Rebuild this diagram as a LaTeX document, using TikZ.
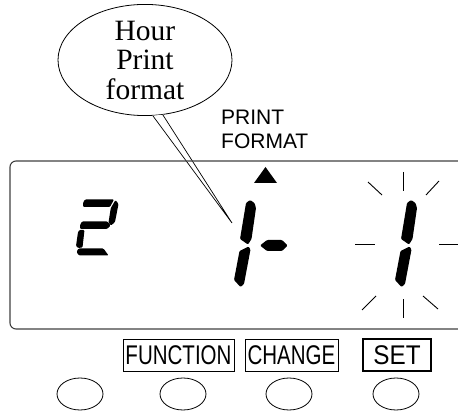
\documentclass[tikz,border=0pt]{standalone}
\usepackage{fontspec}
\setmainfont{Liberation Serif}
\setsansfont{Liberation Sans}
\newfontfamily\narrowsans[FakeStretch=0.76]{Liberation Sans}
\newfontfamily\setsans[FakeStretch=0.9]{Liberation Sans}
\usetikzlibrary{shapes.geometric}

\begin{document}
\begin{tikzpicture}[
  x=1pt,y=-1pt,
  seg/.style={fill=black,rounded corners=1pt},
  ray/.style={line width=.9pt},
  lbl/.style={draw,line width=.8pt,minimum height=32pt,inner sep=0pt,
    font=\narrowsans\fontsize{27}{27}\selectfont},
  btn/.style={draw,ellipse,line width=.8pt,minimum width=46pt,minimum height=32pt,
    inner sep=0pt},
  digitone/.pic={
    \fill[seg] (246,203) -- (250,200) -- (254.5,203) -- (256,208) -- (251.5,239)
      -- (248,244.5) -- (240,239) -- cycle;
    \fill[seg] (248.5,246.5) -- (250.5,249.5) -- (244,284) -- (240.5,287) -- (234,280)
      -- (239.5,251) -- cycle;
  }
]
\useasboundingbox (0,0) rectangle (458,414);

% balloon
\node[draw,ellipse,fill=white,line width=.8pt,minimum width=174pt,minimum height=110pt,
  inner sep=0pt,align=center,font=\fontsize{29.5}{29.5}\selectfont] (bal) at (145,60)
  {Hour\\Print\\format};
\coordinate (tip) at (232,223);
\fill[white] (bal.-83) -- (tip) -- (bal.-71) -- cycle;
\draw[line width=.7pt] (bal.-82) -- (tip) -- (bal.-72);

% display
\draw[line width=1.1pt,black!75,rounded corners=6pt]
  (470,161) -- (10,161) -- (10,329) -- (470,329);
\node[align=left,anchor=north west,inner sep=0pt,
  font=\sffamily\fontsize{21}{24}\selectfont] (pf) at (221,110) {PRINT\\FORMAT};
\fill (254,183) -- (277,183) -- (265.5,167) -- cycle;

% digit 2
\fill[seg] (85,199.5) -- (114,199.5) -- (110,207) -- (83,207) -- (83.3,202) -- cycle;
\fill[seg] (115.5,200) -- (118.5,204) -- (115,222) -- (111,225.5) -- (108.5,222.5)
  -- (110.8,208) -- cycle;
\fill[seg] (82,221.5) -- (107.5,221.5) -- (110.5,225.5) -- (107,229) -- (80,229)
  -- (80,225) -- cycle;
\fill[seg] (79.5,230) -- (84.5,230) -- (82.5,247.5) -- (78,248) -- (76,246)
  -- (78,232) -- cycle;
\fill[seg] (78.5,248.5) -- (103.5,248.5) -- (108.5,255.5) -- (79,255.5) -- (76.5,252)
  -- cycle;

% digits 1 - 1
\pic at (0,0) {digitone};
\fill[seg] (260,245.5) -- (267,240) -- (282,240) -- (287.5,245.5) -- (282,251)
  -- (267,251) -- cycle;
\pic at (161,0) {digitone};

% blinking
\foreach \xa/\ya/\xb/\yb in {403/172/403/191, 368/182/382/195, 426/195/439/181,
  355/244/375/244, 439/244/458/244, 403/299/403/318, 362/310/376/296,
  423/296/438/309}
  \draw[ray] (\xa,\ya) -- (\xb,\yb);

% keys
\node[lbl,minimum width=111pt] (fn) at (178.5,355) {FUNCTION};
\node[lbl,minimum width=93pt] (ch) at (291.5,355) {CHANGE};
\node[lbl,minimum width=68pt,line width=1.1pt,
  font=\setsans\fontsize{27}{27}\selectfont] (st) at (397,355) {SET};
\node[btn] (b1) at (80,394) {};
\node[btn] (b2) at (183,394) {};
\node[btn] (b3) at (289,394) {};
\node[btn] (b4) at (396,394) {};
\end{tikzpicture}
\end{document}
